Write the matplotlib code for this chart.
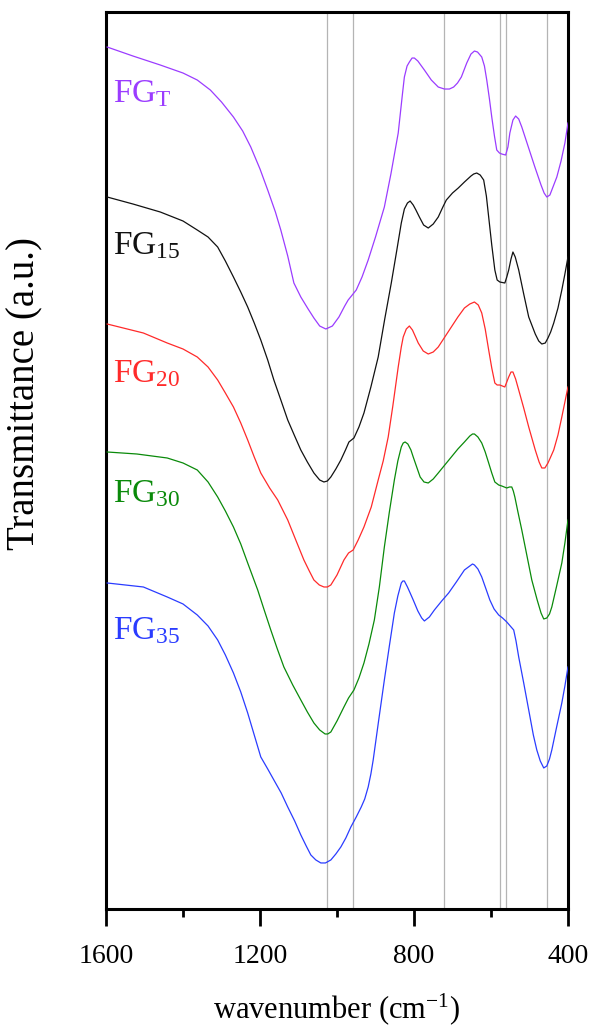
from matplotlib import pyplot as plt
from matplotlib.ticker import FixedLocator

# wavenumber (cm-1) / offset transmittance (a.u.)
wn_t = [1597, 1530, 1459, 1400, 1363, 1329, 1300, 1269, 1245, 1224, 1200,
        1180, 1160, 1146, 1128, 1112, 1094, 1075, 1060, 1045, 1029, 1012,
        995, 980, 971, 950, 935, 919, 900, 877, 860, 841, 830, 825, 818,
        812, 805, 799, 790, 773, 755, 737, 721, 708, 697, 687, 677, 663,
        652, 643, 635, 624, 617, 611, 604, 598, 591, 585, 578, 572, 562,
        556, 551, 543, 536, 528, 520, 503, 486, 470, 462, 455, 447, 440,
        429, 418, 408, 400]
fg_t = [862, 853, 844, 836, 829, 819, 807, 792, 778, 762, 740,
        719, 697, 679, 653, 626, 612, 600, 591, 583, 580, 583,
        592, 603, 609, 619, 632, 649, 672, 702, 735, 776, 815, 832, 843,
        847, 851, 851, 848, 839, 829, 822, 820, 820, 822, 826, 832, 846,
        855, 858, 857, 852, 843, 829, 810, 792, 773, 759, 756, 755, 754,
        762, 776, 789, 793, 790, 782, 762, 742, 724, 716, 712, 714, 721,
        732, 748, 766, 786]

wn_15 = [1597, 1530, 1459, 1400, 1363, 1335, 1310, 1290, 1269, 1250, 1232,
         1215, 1198, 1180, 1164, 1145, 1128, 1110, 1094, 1077, 1060, 1045,
         1034, 1025, 1016, 1003, 990, 978, 969, 956, 943, 930, 912, 893,
         876, 859, 845, 833, 825, 817, 810, 802, 795, 786, 775, 763, 750,
         737, 725, 716, 700, 685, 669, 652, 645, 637, 628, 619, 612, 606,
         598, 590, 584, 577, 564, 559, 554, 548, 543, 537, 528, 515, 502,
         485, 476, 468, 459, 452, 445, 437, 426, 416, 408, 400]
fg_15 = [712, 705, 697, 688, 679, 672, 662, 648, 632, 617, 602,
         586, 569, 549, 529, 508, 489, 473, 459, 447, 436, 429,
         427, 428, 432, 440, 449, 459, 467, 471, 482, 496, 522, 552,
         590, 626, 658, 686, 700, 706, 708, 704, 699, 692, 684, 681, 685,
         692, 702, 709, 716, 721, 727, 733, 735, 736, 734, 729, 713, 692,
         664, 639, 629, 627, 626, 632, 639, 650, 657, 652, 639, 615, 592,
         575, 568, 565, 566, 571, 577, 586, 601, 619, 635, 652]

wn_20 = [1597, 1503, 1441, 1400, 1363, 1335, 1310, 1290, 1269, 1250, 1232,
         1215, 1198, 1175, 1154, 1128, 1105, 1086, 1072, 1060, 1046, 1034,
         1025, 1016, 1000, 982, 970, 958, 945, 930, 911, 893, 880, 867,
         855, 841, 833, 828, 820, 812, 804, 797, 789, 776, 763, 750, 737,
         720, 703, 686, 669, 655, 643, 633, 624, 615, 606, 598, 590, 584,
         577, 564, 559, 554, 548, 543, 536, 528, 515, 502, 485, 475, 468,
         460, 452, 445, 437, 426, 416, 408, 400]
fg_20 = [585, 576, 566, 560, 552, 542, 529, 516, 502, 486, 469,
         452, 436, 421, 409, 389, 367, 349, 338, 329, 324, 322,
         322, 324, 334, 349, 356, 359, 369, 382, 402, 429, 448, 472,
         503, 542, 562, 572, 580, 583, 579, 573, 566, 558, 555, 557, 562,
         572, 582, 592, 601, 605, 607, 604, 596, 580, 559, 541, 526, 524,
         524, 522, 527, 532, 537, 537, 530, 519, 501, 482, 459, 447, 441,
         441, 446, 452, 459, 474, 492, 507, 522]

wn_30 = [1597, 1520, 1441, 1400, 1363, 1335, 1310, 1290, 1269, 1250, 1232,
         1206, 1190, 1172, 1155, 1138, 1115, 1094, 1077, 1060, 1045, 1031,
         1024, 1016, 1000, 982, 970, 956, 943, 930, 917, 903, 890, 877,
         864, 851, 842, 833, 828, 823, 816, 808, 802, 793, 784, 774, 763,
         750, 737, 720, 703, 686, 669, 655, 648, 643, 634, 624, 615, 606,
         598, 590, 580, 572, 559, 552, 546, 542, 538, 530, 520, 507, 494,
         480, 470, 463, 455, 448, 442, 430, 416, 408, 400]
fg_30 = [457, 455, 451, 446, 439, 427, 412, 398, 382, 365, 346,
         319, 300, 279, 260, 242, 224, 209, 197, 186, 179, 175,
         175, 177, 188, 202, 211, 219, 231, 246, 265, 289, 322, 362,
         397, 429, 448, 462, 466, 467, 465, 459, 452, 442, 432, 427, 426,
         430, 436, 444, 452, 460, 467, 473, 475, 475, 472, 466, 457, 446,
         436, 427, 424, 423, 421, 422, 422, 418, 412, 397, 379, 354, 329,
         309, 296, 290, 291, 295, 302, 322, 346, 366, 389]

wn_35 = [1597, 1503, 1441, 1400, 1363, 1335, 1310, 1290, 1269, 1250, 1232,
         1215, 1198, 1180, 1164, 1145, 1128, 1110, 1094, 1080, 1068, 1055,
         1042, 1030, 1016, 1003, 990, 977, 964, 950, 937, 928, 919, 912,
         906, 892, 877, 864, 851, 842, 833, 829, 825, 817, 810, 802, 790,
         780, 773, 760, 747, 728, 710, 690, 669, 655, 648, 643, 634, 624,
         613, 603, 592, 580, 570, 559, 550, 541, 535, 528, 515, 502, 490,
         481, 472, 463, 455, 448, 442, 430, 416, 408, 400]
fg_35 = [326, 322, 312, 305, 294, 283, 269, 254, 236, 217, 196,
         174, 152, 140, 129, 116, 102, 88, 74, 63, 54, 49,
         46, 46, 49, 55, 62, 71, 82, 92, 102, 110, 122, 135,
         149, 188, 229, 263, 296, 313, 326, 328, 328, 322, 316, 309, 298,
         291, 288, 292, 299, 308, 316, 327, 339, 343, 345, 344, 340, 332,
         320, 309, 300, 294, 291, 287, 283, 279, 268, 252, 226, 199, 174,
         159, 148, 141, 143, 150, 159, 181, 206, 223, 242]

labels = [r'FG$_{\mathrm{T}}$', r'FG$_{\mathrm{15}}$', r'FG$_{\mathrm{20}}$',
          r'FG$_{\mathrm{30}}$', r'FG$_{\mathrm{35}}$']
colors = ['#9b3cff', '#111111', '#ff2a2a', '#0a8a0a', '#2a3cff']
label_y = [807, 655, 527, 407, 270]

# reference band positions (cm-1)
bands = [1026, 958, 721, 577, 562, 455]


def ftir_stack(output_name='out.png'):
  """Stacked FTIR transmittance spectra with band markers."""

  plt.rcParams['font.family'] = ['Liberation Serif', 'DejaVu Serif']
  plt.rcParams['mathtext.fontset'] = 'custom'
  plt.rcParams['mathtext.rm'] = 'Liberation Serif'
  plt.rcParams['mathtext.it'] = 'Liberation Serif:italic'

  fig = plt.figure(figsize=(5.98, 10.28), dpi=100)
  ax = fig.add_axes([0.1773, 0.1158, 0.7725, 0.8725])

  for b in bands:
    ax.axvline(b, color='#b4b4b4', lw=0.9, zorder=1)

  series = [(wn_t, fg_t), (wn_15, fg_15), (wn_20, fg_20),
            (wn_30, fg_30), (wn_35, fg_35)]
  for (x, y), c, lab, ly in zip(series, colors, labels, label_y):
    ax.plot(x, y, color=c, lw=0.9, zorder=3)
    ax.text(1582, ly, lab, color=c, fontsize=24, va='baseline', ha='left')

  ax.set_xlim(1600, 400)
  ax.set_ylim(0, 897)
  ax.xaxis.set_major_locator(FixedLocator([1600, 1200, 800, 400]))
  ax.xaxis.set_minor_locator(FixedLocator([1400, 1000, 600]))
  ax.set_yticks([])
  ax.tick_params(axis='x', which='major', direction='out', length=12,
                 width=2, labelsize=20, pad=13)
  ax.tick_params(axis='x', which='minor', direction='out', length=6,
                 width=2)
  for sp in ax.spines.values():
    sp.set_linewidth(2.2)

  ax.set_xlabel('wavenumber (cm$^{\\mathrm{-1}}$)', fontsize=22, labelpad=16)
  ax.set_ylabel('Transmittance (a.u.)', fontsize=28)
  ax.yaxis.set_label_coords(-0.135, 0.575)

  plt.savefig(output_name, dpi=100)


ftir_stack()
